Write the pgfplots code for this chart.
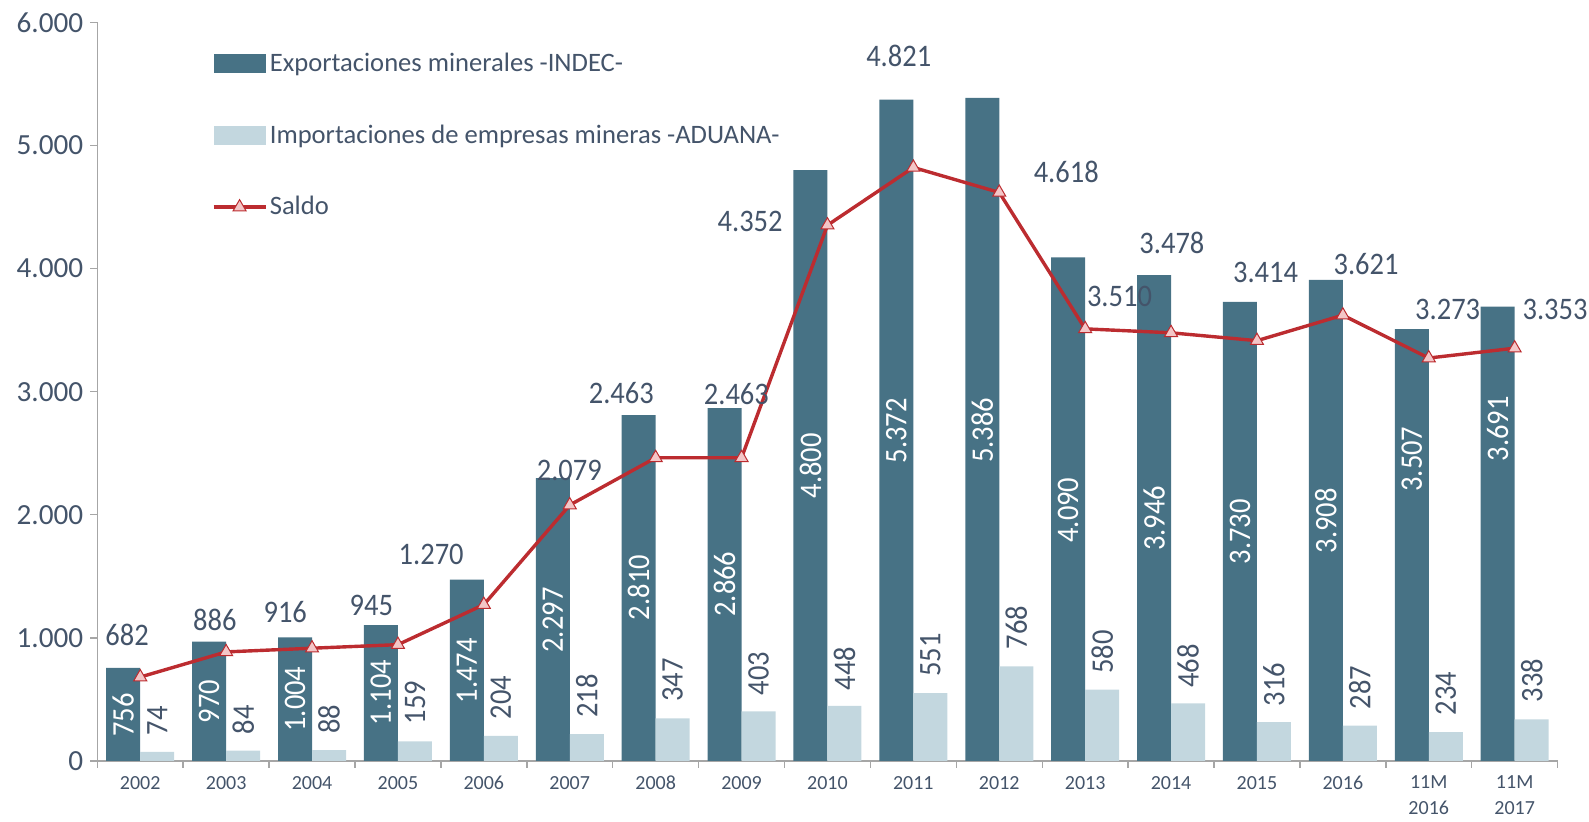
\documentclass[border=0pt]{standalone}
\usepackage{pgfplots}
\pgfplotsset{compat=1.18}
\usepackage{fontspec}
\setmainfont{Carlito}
\definecolor{barDark}{HTML}{477285}
\definecolor{barLight}{HTML}{C3D7DF}
\definecolor{lineRed}{HTML}{BC2C30}
\definecolor{markFill}{HTML}{F3C6C7}
\definecolor{txt}{HTML}{44546A}
\definecolor{axgray}{HTML}{A6A6A6}

\pgfplotsset{
  saldolegend/.style={legend image code/.code={\draw[#1, mark repeat=2, mark phase=2] plot coordinates {(0pt,0pt) (13pt,0pt) (26pt,0pt)};}},
  datalabel/.style={nodes near coords={\scalebox{1}[1.1]{\pgfplotspointmeta}}},
}

\pgfplotstableread{
x y
0 756
1 970
2 1004
3 1104
4 1474
5 2297
6 2810
7 2866
8 4800
9 5372
10 5386
11 4090
12 3946
13 3730
14 3908
15 3507
16 3691
}\exportsdata
\pgfplotstableread{
x y
0 74
1 84
2 88
3 159
4 204
5 218
6 347
7 403
8 448
9 551
10 768
11 580
12 468
13 316
14 287
15 234
16 338
}\importsdata
\pgfplotstableread{
x y
0 682
1 886
2 916
3 945
4 1270
5 2079
6 2463
7 2463
8 4352
9 4821
10 4618
11 3510
12 3478
13 3414
14 3621
15 3273
16 3353
}\saldodata

\begin{document}
\begin{tikzpicture}
\useasboundingbox (-48.65pt,-30.5pt) rectangle (745.85pt,380.5pt);
\begin{axis}[
  at={(0pt,0pt)}, anchor=south west,
  scale only axis, width=730.15pt, height=369.35pt,
  xmin=-0.5, xmax=16.5, ymin=0, ymax=6000,
  clip=false,
  axis x line*=bottom, axis y line*=left,
  axis line style={draw=axgray, line width=0.7pt},
  tick align=outside,
  major tick length=3.5pt,
  tick style={draw=axgray, line width=0.7pt},
  xtick={-0.5,0.5,1.5,2.5,3.5,4.5,5.5,6.5,7.5,8.5,9.5,10.5,11.5,12.5,13.5,14.5,15.5,16.5},
  xticklabels={,2002,2003,2004,2005,2006,2007,2008,2009,2010,2011,2012,2013,2014,2015,2016,11M\\2016,11M\\2017},
  xticklabel style={xshift=-21.48pt, yshift=-0.5pt, align=center, font=\fontsize{10}{13}\selectfont, text=txt, anchor=north},
  ytick={0,1000,2000,3000,4000,5000,6000},
  yticklabels={0,1.000,2.000,3.000,4.000,5.000,6.000},
  yticklabel style={font=\fontsize{14.6}{16}\selectfont, text=txt},
  legend style={at={(0.0782,0.9623)}, anchor=north west, draw=none, fill=none,
    inner sep=0pt, row sep=22.6pt, font=\fontsize{13.3}{15}\selectfont, text=txt,
    nodes={inner sep=1.25pt}},
  legend cell align=left,
]
\addplot[ybar, bar width=17pt, bar shift=-8.5pt, fill=barDark, draw=none,
  legend image code/.code={\fill[barDark] (0pt,-4.75pt) rectangle (26pt,4.75pt);}]
  table[x=x,y=y] {\exportsdata};
\addlegendentry{Exportaciones minerales -INDEC-}
\addplot[ybar, bar width=17pt, bar shift=8.5pt, fill=barLight, draw=none,
  legend image code/.code={\fill[barLight] (0pt,-4.75pt) rectangle (26pt,4.75pt);}]
  table[x=x,y=y] {\importsdata};
\addlegendentry{Importaciones de empresas mineras -ADUANA-}
\addplot[lineRed, line width=1.7pt, mark=triangle*, mark size=3.75pt,
  mark options={fill=markFill, draw=lineRed, line width=0.5pt}, saldolegend]
  table[x=x,y=y] {\saldodata};
\addlegendentry{Saldo}

% labels inside export bars
\addplot[draw=none, mark=none, forget plot, datalabel, point meta=explicit symbolic,
  every node near coord/.append style={rotate=90, anchor=center, text=white, font=\fontsize{14.25}{16}\selectfont}]
  table[meta=lab] {
x y lab
-0.198 373 756
0.802 481 970
1.802 503 1.004
2.802 556 1.104
3.802 732 1.474
4.802 1145 2.297
5.802 1409 2.810
6.802 1437 2.866
7.802 2397 4.800
8.802 2682 5.372
9.802 2687 5.386
10.802 2038 4.090
11.802 1970 3.946
12.802 1862 3.730
13.802 1950 3.908
14.802 2452 3.507
15.802 2697 3.691
};
% labels above import bars
\addplot[draw=none, mark=none, forget plot, datalabel, point meta=explicit symbolic,
  every node near coord/.append style={rotate=90, anchor=center, text=txt, font=\fontsize{14.25}{16}\selectfont}]
  table[meta=lab] {
x y lab
0.198 326 74
1.198 333 84
2.198 341 88
3.198 475 159
4.198 516 204
5.198 528 218
6.198 658 347
7.198 710 403
8.198 751 448
9.198 861 551
10.198 1084 768
11.198 887 580
12.198 773 468
13.198 621 316
14.198 597 287
15.198 548 234
16.198 652 338
};
% saldo labels
\addplot[draw=none, mark=none, forget plot, datalabel, point meta=explicit symbolic,
  every node near coord/.append style={anchor=center, text=txt, font=\fontsize{14.25}{16}\selectfont}]
  table[meta=lab] {
x y lab
-0.154 1023 682
0.868 1145 886
1.688 1212 916
2.69 1267 945
3.387 1681 1.270
4.995 2363 2.079
5.60 2992 2.463
6.94 2980 2.463
7.10 4384 4.352
8.83 5724 4.821
10.78 4785 4.618
11.40 3770 3.510
12.01 4206 3.478
13.10 3970 3.414
14.27 4035 3.621
15.22 3670 3.273
16.47 3670 3.353
};
\end{axis}
\end{tikzpicture}
\end{document}
